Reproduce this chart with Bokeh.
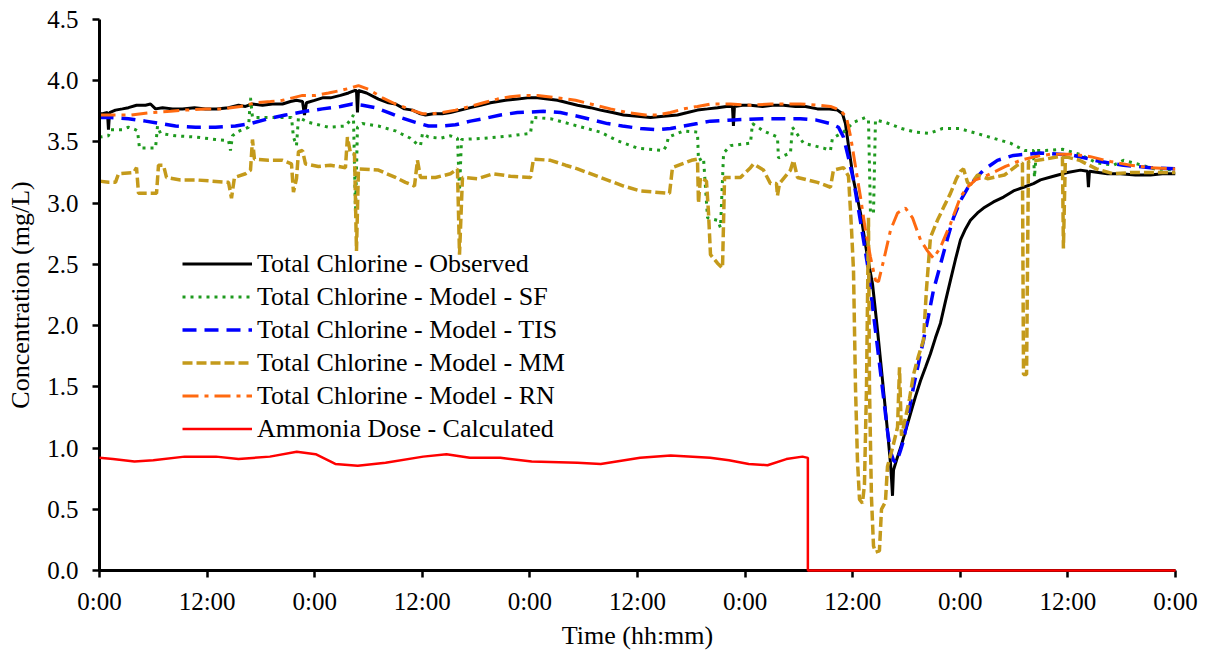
from bokeh.plotting import figure
from bokeh.models import FixedTicker, Legend, LegendItem, PrintfTickFormatter
from bokeh.embed import file_html
from bokeh.resources import INLINE

# ---------------- data (time in hours from start, concentration in mg/L) ----------------
x_ticks = [0, 12, 24, 36, 48, 60, 72, 84, 96, 108, 120]
x_tick_labels = ["0:00", "12:00", "0:00", "12:00", "0:00", "12:00",
                 "0:00", "12:00", "0:00", "12:00", "0:00"]
y_ticks = [0.0, 0.5, 1.0, 1.5, 2.0, 2.5, 3.0, 3.5, 4.0, 4.5]

obs_t = [0.0, 0.33, 0.89, 1.0, 1.12, 1.78, 2.56, 3.23, 4.13, 5.13, 5.69, 6.25, 7.03, 8.14, 9.26,
         10.59, 11.82, 13.05, 14.39, 15.5, 16.28, 17.06, 18.18, 19.29, 20.41, 21.3, 21.97, 22.64,
         22.86, 23.08, 23.98, 24.87, 25.76, 26.88, 27.77, 28.44, 28.66, 28.77, 28.88, 29.78, 31.11,
         32.23, 33.01, 34.01, 34.91, 35.8, 36.36, 37.25, 38.25, 39.14, 40.26, 41.37, 42.49, 43.6,
         45.28, 46.61, 47.73, 48.85, 49.96, 51.08, 52.19, 53.31, 54.76, 55.87, 57.21, 58.44, 60.0,
         61.45, 62.9, 64.46, 65.58, 66.69, 67.81, 68.92, 69.93, 70.59, 70.7, 70.81, 71.71, 72.6,
         73.94, 75.05, 76.28, 77.62, 78.73, 80.07, 81.19, 82.3, 82.86, 83.19, 83.53, 84.09, 84.87,
         85.65, 86.21, 86.77, 87.33, 87.88, 88.22, 88.33, 88.44, 88.55, 88.88, 89.33, 89.89, 90.44,
         91.0, 91.56, 92.12, 92.67, 93.23, 93.79, 94.35, 94.9, 95.46, 96.02, 96.58, 97.13, 97.92,
         98.59, 99.7, 100.82, 101.93, 103.05, 104.16, 104.94, 106.39, 107.95, 109.4, 110.18, 110.29,
         110.4, 111.4, 112.41, 113.86, 115.53, 117.21, 118.54, 120.0]
obs_v = [3.73, 3.73, 3.74, 3.6, 3.74, 3.76, 3.77, 3.78, 3.8, 3.8, 3.81, 3.77, 3.78, 3.77, 3.77,
         3.78, 3.77, 3.77, 3.78, 3.8, 3.79, 3.81, 3.8, 3.81, 3.81, 3.83, 3.84, 3.83,
         3.72, 3.82, 3.84, 3.86, 3.86, 3.88, 3.9, 3.92, 3.92, 3.74, 3.92, 3.9, 3.85,
         3.82, 3.81, 3.77, 3.76, 3.73, 3.72, 3.73, 3.73, 3.74, 3.76, 3.78, 3.8, 3.82,
         3.84, 3.85, 3.86, 3.86, 3.85, 3.84, 3.82, 3.8, 3.78, 3.76, 3.74, 3.72, 3.71,
         3.7, 3.71, 3.72, 3.74, 3.76, 3.77, 3.78, 3.79, 3.79, 3.63, 3.79, 3.8, 3.8,
         3.79, 3.8, 3.8, 3.79, 3.79, 3.77, 3.77, 3.76, 3.73, 3.65, 3.47, 3.19, 2.92,
         2.56, 2.34, 1.96, 1.55, 1.14, 0.87, 0.75, 0.61, 0.82, 0.9, 1.0, 1.14, 1.28,
         1.42, 1.55, 1.66, 1.77, 1.9, 2.02, 2.2, 2.37, 2.54, 2.7, 2.79, 2.86, 2.92,
         2.96, 3.01, 3.05, 3.1, 3.13, 3.16, 3.19, 3.22, 3.25, 3.27, 3.26, 3.13,
         3.26, 3.25, 3.24, 3.24, 3.23, 3.23, 3.24, 3.24]

sf_t = [0.0, 1.0, 1.23, 2.56, 3.23, 4.01, 4.24, 4.46, 6.25, 6.47, 6.8, 8.48, 10.71, 12.94, 14.39,
        14.61, 14.83, 15.28, 16.62, 16.84, 17.06, 18.85, 21.41, 21.63, 21.97, 22.19, 23.31, 25.54,
        27.43, 27.99, 28.32, 28.55, 28.77, 29.33, 31.11, 33.01, 34.68, 35.46, 35.8, 36.02, 36.69,
        38.03, 39.14, 39.92, 40.15, 40.37, 42.82, 45.83, 48.07, 48.29, 50.3, 53.31, 55.87, 57.77,
        60.0, 62.9, 63.23, 63.45, 65.13, 66.69, 66.8, 67.36, 67.81, 68.92, 69.26, 69.6, 70.37,
        72.6, 72.82, 74.05, 75.61, 75.72, 77.06, 77.28, 78.51, 80.74, 81.52, 81.74, 82.97, 84.09,
        85.42, 85.76, 85.98, 86.32, 86.54, 87.66, 89.44, 90.99, 92.56, 94.01, 95.9, 97.8, 99.7,
        101.59, 103.16, 104.16, 104.27, 104.49, 105.5, 107.39, 109.29, 111.18, 113.08, 114.2,
        115.76, 117.66, 120.0]
sf_v = [3.54, 3.55, 3.6, 3.6, 3.62, 3.6, 3.59, 3.45, 3.45, 3.63, 3.57, 3.55, 3.54, 3.52, 3.51,
        3.43, 3.55, 3.58, 3.62, 3.86, 3.7, 3.7, 3.7, 3.54, 3.47, 3.7, 3.66, 3.62,
        3.63, 3.68, 3.72, 2.92, 3.62, 3.65, 3.63, 3.59, 3.53, 3.48, 3.47, 3.57, 3.54,
        3.53, 3.55, 3.53, 3.1, 3.52, 3.53, 3.55, 3.57, 3.7, 3.69, 3.63, 3.58, 3.51,
        3.45, 3.43, 3.47, 3.54, 3.59, 3.58, 3.35, 3.37, 2.88, 2.86, 2.8, 3.41, 3.47,
        3.49, 3.65, 3.59, 3.54, 3.37, 3.41, 3.62, 3.49, 3.45, 3.43, 3.53, 3.58, 3.66,
        3.7, 3.68, 2.92, 2.92, 3.68, 3.66, 3.61, 3.58, 3.57, 3.61, 3.61, 3.57, 3.53,
        3.49, 3.43, 3.43, 3.21, 3.43, 3.43, 3.44, 3.4, 3.33, 3.31, 3.35,
        3.32, 3.28, 3.27]

tis_t = [0.0, 1.23, 3.23, 5.13, 6.8, 8.48, 10.71, 12.94, 15.17, 16.84, 18.85, 20.74, 22.97, 24.87,
         26.88, 28.21, 29.33, 30.78, 32.23, 33.57, 35.24, 36.69, 38.03, 39.7, 41.37, 42.82, 44.72,
         46.61, 49.51, 51.41, 53.31, 54.98, 56.65, 58.32, 60.33, 62.23, 63.68, 65.13, 66.69, 68.14,
         70.7, 74.49, 78.17, 79.85, 81.52, 82.41, 82.97, 83.53, 84.09, 84.87, 85.65, 86.21, 86.77,
         87.33, 87.88, 88.22, 88.55, 88.88, 89.33, 89.66, 90.22, 90.78, 91.33, 91.89, 92.45, 93.01,
         93.57, 94.12, 94.68, 95.24, 96.02, 96.8, 97.69, 98.59, 100.14, 101.93, 104.94, 108.62,
         111.63, 114.2, 117.21, 120.0]
tis_v = [3.7, 3.7, 3.69, 3.67, 3.65, 3.63, 3.62, 3.62, 3.63, 3.65, 3.69, 3.72, 3.75, 3.77,
         3.79, 3.81, 3.8, 3.78, 3.74, 3.7, 3.66, 3.63, 3.63, 3.64, 3.67, 3.69, 3.72,
         3.74, 3.75, 3.74, 3.71, 3.68, 3.65, 3.63, 3.61, 3.6, 3.61, 3.63, 3.65, 3.67,
         3.68, 3.69, 3.69, 3.68, 3.65, 3.62, 3.54, 3.37, 3.19, 2.85, 2.5, 2.16, 1.82,
         1.48, 1.14, 0.97, 0.9, 0.88, 0.98, 1.06, 1.28, 1.5, 1.69, 1.88, 2.08, 2.29,
         2.44, 2.59, 2.74, 2.88, 3.02, 3.12, 3.2, 3.27, 3.35, 3.39, 3.41, 3.39,
         3.34, 3.31, 3.29, 3.28]

mm_t = [0.0, 1.0, 1.78, 2.12, 3.81, 4.13, 4.35, 6.36, 6.58, 7.14, 7.47, 9.03, 10.71, 12.6, 14.39,
        14.72, 15.05, 16.28, 16.84, 17.06, 17.28, 18.85, 20.41, 21.41, 21.63, 21.97, 22.19, 22.64,
        22.97, 24.42, 25.76, 27.43, 27.65, 27.99, 28.44, 28.66, 28.88, 31.11, 33.01, 34.12, 35.13,
        35.46, 35.8, 37.47, 39.14, 39.92, 40.15, 40.48, 42.15, 43.94, 45.83, 48.07, 48.4, 50.3,
        51.97, 53.31, 55.87, 58.44, 60.33, 63.57, 63.9, 66.02, 66.69, 66.8, 67.02, 67.69, 67.92,
        68.14, 68.92, 69.48, 69.71, 71.48, 72.6, 72.93, 74.05, 74.83, 75.5, 75.61, 75.83, 77.06,
        77.39, 77.84, 80.07, 81.52, 81.85, 82.97, 83.53, 83.86, 84.09, 84.31, 84.53, 84.76, 85.09,
        85.31, 85.54, 85.76, 85.87, 86.09, 86.32, 86.54, 86.98, 87.21, 87.65, 87.88, 88.44, 89.0,
        89.22, 89.44, 89.89, 90.33, 90.78, 91.33, 91.89, 92.23, 92.67, 93.45, 94.23, 94.9, 95.57,
        96.02, 96.36, 96.8, 97.13, 97.92, 99.03, 100.92, 102.37, 102.93, 103.05, 103.39, 103.6,
        105.5, 106.95, 107.39, 107.5, 107.72, 109.29, 111.18, 113.08, 114.97, 116.85, 120.0]
mm_v = [3.18, 3.17, 3.17, 3.24, 3.25, 3.29, 3.08, 3.08, 3.31, 3.31, 3.21, 3.19, 3.19, 3.18, 3.17,
        3.04, 3.21, 3.24, 3.27, 3.52, 3.36, 3.35, 3.35, 3.32, 3.09, 3.2, 3.42, 3.43,
        3.32, 3.3, 3.31, 3.29, 3.54, 3.41, 3.4, 2.61, 3.28, 3.27, 3.21, 3.17, 3.14,
        3.35, 3.21, 3.21, 3.24, 3.28, 2.58, 3.21, 3.2, 3.24, 3.22, 3.21, 3.36, 3.35,
        3.31, 3.28, 3.21, 3.14, 3.1, 3.08, 3.29, 3.35, 3.36, 3.0, 3.21, 3.18, 2.92,
        2.58, 2.51, 2.47, 3.21, 3.21, 3.29, 3.32, 3.27, 3.16, 3.16, 3.06, 3.16, 3.27,
        3.35, 3.21, 3.17, 3.13, 3.27, 3.29, 3.22, 2.8, 2.45, 1.5, 0.9, 0.58, 0.55,
        0.7, 1.5, 2.88, 1.5, 0.6, 0.2, 0.15, 0.16, 0.5, 0.56, 0.85, 1.0, 1.17,
        1.66, 1.1, 1.25, 1.4, 1.6, 1.75, 1.88, 2.3, 2.72, 2.86, 2.98, 3.08, 3.2,
        3.26, 3.28, 3.17, 3.15, 3.23, 3.2, 3.23, 3.31, 3.33, 1.6, 1.6, 3.34,
        3.36, 3.38, 3.38, 2.63, 3.38, 3.35, 3.28, 3.24, 3.25, 3.25, 3.25]

rn_t = [0.0, 1.78, 3.46, 5.69, 7.92, 9.59, 11.82, 13.72, 15.72, 17.4, 19.07, 20.41, 21.52, 22.64,
        24.09, 25.54, 26.88, 27.99, 28.88, 29.99, 31.56, 33.01, 34.12, 35.24, 36.02, 37.14, 38.25,
        39.7, 41.37, 42.82, 44.38, 45.83, 47.51, 48.85, 51.08, 53.09, 54.76, 56.99, 58.88, 60.89,
        62.23, 63.68, 65.13, 66.69, 68.14, 70.37, 72.6, 74.83, 76.28, 78.17, 80.07, 81.52, 82.63,
        83.3, 83.75, 84.09, 84.53, 84.87, 85.42, 85.98, 86.54, 86.88, 87.44, 88.22, 89.0, 89.89,
        90.67, 91.56, 92.34, 93.01, 93.79, 94.9, 96.02, 96.8, 97.69, 98.81, 99.93, 101.04, 102.71,
        104.38, 106.05, 108.28, 110.51, 112.74, 114.97, 117.21, 120.0]
rn_v = [3.72, 3.72, 3.72, 3.74, 3.75, 3.76, 3.77, 3.77, 3.79, 3.82, 3.83, 3.84, 3.86, 3.88,
        3.88, 3.9, 3.92, 3.94, 3.96, 3.93, 3.86, 3.81, 3.78, 3.75, 3.73, 3.73, 3.74,
        3.76, 3.79, 3.82, 3.85, 3.87, 3.88, 3.88, 3.86, 3.84, 3.81, 3.77, 3.74, 3.72,
        3.72, 3.74, 3.77, 3.79, 3.81, 3.81, 3.8, 3.81, 3.81, 3.81, 3.8, 3.79, 3.76,
        3.7, 3.55, 3.4, 3.2, 3.05, 2.78, 2.56, 2.37, 2.36, 2.53, 2.78, 2.92, 2.96,
        2.88, 2.7, 2.61, 2.55, 2.64, 2.83, 3.05, 3.13, 3.19, 3.22, 3.26, 3.3, 3.35,
        3.38, 3.4, 3.4, 3.38, 3.34, 3.31, 3.29, 3.28]

nh3_t = [0.0, 1.5, 3.9, 6.0, 9.5, 13.0, 15.5, 19.0, 22.0, 24.1, 26.3, 28.8, 31.9, 36.1, 38.7,
         41.3, 44.7, 48.2, 53.3, 55.9, 60.3, 63.7, 68.1, 70.2, 72.4, 74.5, 76.6, 78.4, 79.0,
         79.0, 120.0]
nh3_v = [0.92, 0.91, 0.89, 0.9, 0.93, 0.93, 0.91, 0.93, 0.97, 0.95, 0.87, 0.855, 0.88, 0.93, 0.95,
         0.92, 0.92, 0.89, 0.88, 0.87, 0.92, 0.94, 0.92, 0.9, 0.87, 0.86, 0.91, 0.93, 0.92,
         0.0, 0.0]

labels = ["Total Chlorine - Observed", "Total Chlorine - Model - SF",
          "Total Chlorine - Model - TIS", "Total Chlorine - Model - MM",
          "Total Chlorine - Model - RN", "Ammonia Dose - Calculated"]

# ---------------- figure ----------------
FONT = "Liberation Serif, Times New Roman, Times, serif"

p = figure(width=1209, height=652, x_range=(0, 120), y_range=(0, 4.5),
           output_backend="svg", toolbar_location=None,
           min_border_left=99, min_border_right=34, min_border_top=19, min_border_bottom=82)
p.grid.visible = False
p.outline_line_color = None
p.background_fill_color = "white"
p.border_fill_color = "white"

r_obs = p.line(obs_t, obs_v, line_color="black", line_width=3)
r_sf = p.line(sf_t, sf_v, line_color="#1E9A1E", line_width=3, line_dash="3 5")
r_tis = p.line(tis_t, tis_v, line_color="#0000FF", line_width=3.5, line_dash="14 8")
r_mm = p.line(mm_t, mm_v, line_color="#C49A1B", line_width=3.5, line_dash="10 4")
r_rn = p.line(rn_t, rn_v, line_color="#FF6A10", line_width=3, line_dash="16 6 4 6")
r_nh3 = p.line(nh3_t, nh3_v, line_color="#FF0000", line_width=2.5, level="overlay")

for ax in (p.xaxis[0], p.yaxis[0]):
    ax.axis_line_color = "black"
    ax.axis_line_width = 3
    ax.major_tick_line_color = "black"
    ax.major_tick_line_width = 2.5
    ax.major_tick_out = 7
    ax.major_tick_in = 0
    ax.minor_tick_line_color = None
    ax.major_label_text_font = FONT
    ax.major_label_text_font_size = "25px"
    ax.major_label_text_color = "black"
    ax.axis_label_text_font = FONT
    ax.axis_label_text_font_size = "26px"
    ax.axis_label_text_font_style = "normal"
    ax.axis_label_text_color = "black"

p.xaxis.ticker = FixedTicker(ticks=x_ticks)
p.xaxis.major_label_overrides = {t: lab for t, lab in zip(x_ticks, x_tick_labels)}
p.xaxis.major_label_standoff = 10
p.xaxis.axis_label = "Time (hh:mm)"
p.xaxis.axis_label_standoff = 3

p.yaxis.ticker = FixedTicker(ticks=y_ticks)
p.yaxis.formatter = PrintfTickFormatter(format="%.1f")
p.yaxis.major_label_standoff = 14
p.yaxis.axis_label = "Concentration (mg/L)"
p.yaxis.axis_label_standoff = 9

legend = Legend(
    items=[LegendItem(label=lab, renderers=[r]) for lab, r in
           zip(labels, [r_obs, r_sf, r_tis, r_mm, r_rn, r_nh3])],
    location=(83, 125),
    label_text_font=FONT, label_text_font_size="26px", label_text_color="black",
    glyph_width=70, glyph_height=33, label_height=33, label_standoff=5,
    spacing=0, padding=0, margin=0,
    background_fill_alpha=0, border_line_alpha=0,
)
p.add_layout(legend)

open("out.html", "w").write(file_html(p, INLINE))
